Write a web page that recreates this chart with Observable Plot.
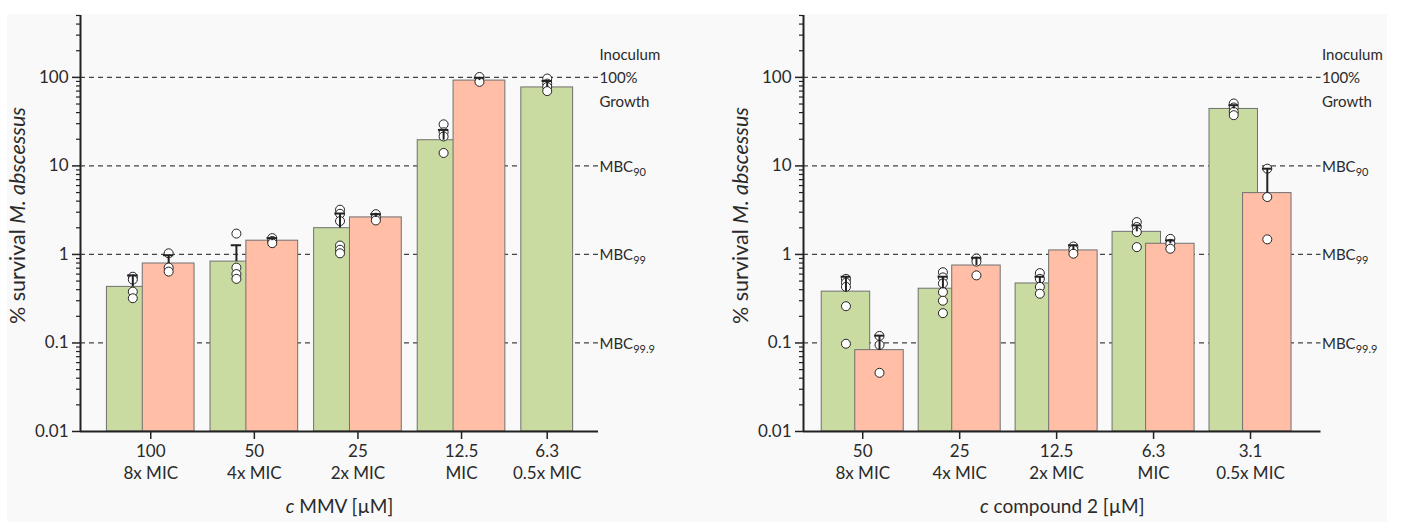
<!DOCTYPE html>
<html><head><meta charset="utf-8">
<script src="https://cdn.jsdelivr.net/npm/d3@7"></script>
<script src="https://cdn.jsdelivr.net/npm/@observablehq/plot@0.6"></script>
<style>
html,body{margin:0;padding:0;background:#fff;}
#wrap{position:relative;width:1401px;height:522px;overflow:hidden;}
#bg{position:absolute;left:7px;top:14px;width:1380px;height:508px;background:#f9f9f9;}
#left{position:absolute;left:0;top:0;}
#right{position:absolute;left:700px;top:0;}
</style></head><body>
<div id="wrap"><div id="bg"></div><div id="left"></div><div id="right"></div></div>
<script>
// ---------- data ----------
const concMMV = ["100", "50", "25", "12.5", "6.3"];
const micMMV = ["8x MIC", "4x MIC", "2x MIC", "MIC", "0.5x MIC"];
const mmvGreenMean = [0.43, 0.83, 1.98, 19.5, 77];
const mmvGreenErr = [0.58, 1.27, 2.9, 25.5, 91];
const mmvGreenPts = [[0.56, 0.52, 0.38, 0.32], [1.72, 0.71, 0.6, 0.53], [3.2, 2.88, 2.38, 1.26, 1.13, 1.03], [29.5, 24, 21.5, 14], [97, 85, 78, 70]];
const mmvSalmonMean = [0.79, 1.43, 2.62, 92, null];
const mmvSalmonErr = [0.98, 1.53, 2.85, 99, null];
const mmvSalmonPts = [[1.03, 0.71, 0.64], [1.53, 1.42, 1.34], [2.85, 2.6, 2.42], [101, 89], []];

const concC2 = ["50", "25", "12.5", "6.3", "3.1"];
const micC2 = ["8x MIC", "4x MIC", "2x MIC", "MIC", "0.5x MIC"];
const c2GreenMean = [0.38, 0.41, 0.47, 1.8, 44];
const c2GreenErr = [0.56, 0.56, 0.56, 2.13, 48.5];
const c2GreenPts = [[0.53, 0.48, 0.43, 0.26, 0.098], [0.63, 0.55, 0.47, 0.375, 0.3, 0.217], [0.615, 0.53, 0.43, 0.36], [2.32, 2.04, 1.79, 1.21], [50.7, 45.7, 40.8, 37.4]];
const c2SalmonMean = [0.083, 0.75, 1.11, 1.32, 4.93];
const c2SalmonErr = [0.121, 0.917, 1.27, 1.44, 9.3];
const c2SalmonPts = [[0.12, 0.095, 0.046], [0.9, 0.83, 0.58], [1.23, 1.13, 1.02], [1.5, 1.32, 1.16], [9.3, 4.45, 1.48]];

const refValues = [100, 10, 1, 0.1];
const refBase = ["100%", "MBC", "MBC", "MBC"];
const refSub = ["", "90", "99", "99.9"];
const majorTicks = [0.01, 0.1, 1, 10, 100];
const minorTicks = [];
for (const p of [0.01, 0.1, 1, 10, 100]) for (let k = 2; k <= 9; k++) { const v = +(k * p).toPrecision(3); if (v <= 500) minorTicks.push(v); }

const GREEN = "#c9dba1", SALMON = "#ffbea5", INK = "#222", TEXT = "#2a2a2a";

// ---------- helpers ----------
function panel(o) {
  const off = 0.173, hw = 0.25;
  const gBars = [], sBars = [], pts = [], errs = [];
  o.conc.forEach((c, i) => {
    gBars.push({x: i - off, mean: o.gMean[i]});
    errs.push({x: i - off, mean: o.gMean[i], err: o.gErr[i]});
    o.gPts[i].forEach(v => pts.push({x: i - off, v}));
    if (o.sMean[i] != null) {
      sBars.push({x: i + off, mean: o.sMean[i]});
      errs.push({x: i + off, mean: o.sMean[i], err: o.sErr[i]});
    }
    o.sPts[i].forEach(v => pts.push({x: i + off, v}));
  });
  const groups = o.conc.map((c, i) => ({tick: o.sMean[i] == null ? i - off : i, conc: c, mic: o.mic[i]}));
  const refs = refValues.map((v, i) => ({v, label: refBase[i] + refSub[i]}));
  const svg = Plot.plot({
    width: o.width, height: 522,
    marginLeft: o.marginLeft, marginRight: o.marginRight, marginTop: 15, marginBottom: 91,
    style: {background: "transparent", fontFamily: "Lato, sans-serif", color: INK, overflow: "visible"},
    x: {type: "linear", domain: o.xDomain},
    y: {type: "log", domain: [0.01, 500]},
    marks: [
      Plot.ruleY(refs, {y: "v", stroke: "#444", strokeDasharray: "5,4", strokeWidth: 1.2}),
      Plot.rect(gBars, {x1: d => d.x - hw, x2: d => d.x + hw, y1: () => 0.01, y2: "mean", fill: GREEN, stroke: "#707070", strokeWidth: 1}),
      Plot.rect(sBars, {x1: d => d.x - hw, x2: d => d.x + hw, y1: () => 0.01, y2: "mean", fill: SALMON, stroke: "#707070", strokeWidth: 1}),
      Plot.dot(pts, {x: "x", y: "v", r: 4.5, fill: "white", stroke: INK, strokeWidth: 1}),
      Plot.ruleX(errs, {x: "x", y1: "mean", y2: "err", stroke: INK, strokeWidth: 2}),
      Plot.ruleY(errs, {y: "err", x1: d => d.x - 0.05, x2: d => d.x + 0.05, stroke: INK, strokeWidth: 2}),
      Plot.axisY(minorTicks, {tickSize: 4, tickFormat: () => "", label: null, strokeWidth: 1.2}),
      Plot.axisY(majorTicks, {tickSize: 8, tickPadding: 4, tickFormat: d => String(d), label: null, fontSize: 17, strokeWidth: 1.5, fill: TEXT}),
      Plot.axisX(groups.map(d => d.tick), {tickSize: 8, tickFormat: () => "", label: null, strokeWidth: 1.5}),
      Plot.ruleX([o.xDomain[0]], {stroke: INK, strokeWidth: 2}),
      Plot.ruleY([0.01], {stroke: INK, strokeWidth: 2}),
      Plot.text(groups, {x: "tick", text: "conc", frameAnchor: "bottom", dy: 25, fontSize: 17, fill: TEXT}),
      Plot.text(groups, {x: "tick", text: "mic", frameAnchor: "bottom", dy: 47, fontSize: 17, fill: TEXT}),
      Plot.text(refs, {y: "v", text: "label", frameAnchor: "right", textAnchor: "start", dx: 1, dy: 1, fontSize: 15, fill: TEXT}),
      Plot.text(["Inoculum"], {text: d => d, y: () => 100, frameAnchor: "right", textAnchor: "start", dx: 1, dy: -22, fontSize: 15, fill: TEXT}),
      Plot.text(["Growth"], {text: d => d, y: () => 100, frameAnchor: "right", textAnchor: "start", dx: 1, dy: 25, fontSize: 15, fill: TEXT}),
      Plot.text(["% survival M. abscessus"], {text: d => d, frameAnchor: "left", textAnchor: "middle", rotate: -90, dx: -62, dy: -8, fontSize: 21.5, fill: TEXT}),
      Plot.text([o.title], {text: d => d, frameAnchor: "bottom", dy: 81, fontSize: 19, fill: TEXT})
    ]
  });
  // rich text: italics and subscripts
  const rich = {
    "% survival M. abscessus": [{t: "% survival "}, {t: "M. abscessus", i: true}],
    [o.title]: o.titleRich
  };
  refValues.forEach((v, i) => { if (refSub[i]) rich[refBase[i] + refSub[i]] = [{t: refBase[i]}, {t: refSub[i], sub: true}]; });
  d3.select(svg).selectAll("text").each(function () {
    const segs = rich[this.textContent];
    if (!segs) return;
    const el = d3.select(this);
    el.text(null);
    segs.forEach(s => {
      const ts = el.append("tspan").text(s.t);
      if (s.i) ts.attr("font-style", "italic");
      if (s.sub) ts.attr("font-size", "11").attr("dy", "0.35em");
    });
  });
  return svg;
}

document.getElementById("left").appendChild(panel({
  conc: concMMV, mic: micMMV, gMean: mmvGreenMean, gErr: mmvGreenErr, gPts: mmvGreenPts,
  sMean: mmvSalmonMean, sErr: mmvSalmonErr, sPts: mmvSalmonPts,
  width: 700, marginLeft: 80, marginRight: 102, xDomain: [-0.678, 4.322],
  title: "c MMV [µM]", titleRich: [{t: "c", i: true}, {t: " MMV [µM]"}]
}));
document.getElementById("right").appendChild(panel({
  conc: concC2, mic: micC2, gMean: c2GreenMean, gErr: c2GreenErr, gPts: c2GreenPts,
  sMean: c2SalmonMean, sErr: c2SalmonErr, sPts: c2SalmonPts,
  width: 701, marginLeft: 103, marginRight: 80.5, xDomain: [-0.611, 4.727],
  title: "c compound 2 [µM]", titleRich: [{t: "c", i: true}, {t: " compound 2 [µM]"}]
}));
</script></body></html>
